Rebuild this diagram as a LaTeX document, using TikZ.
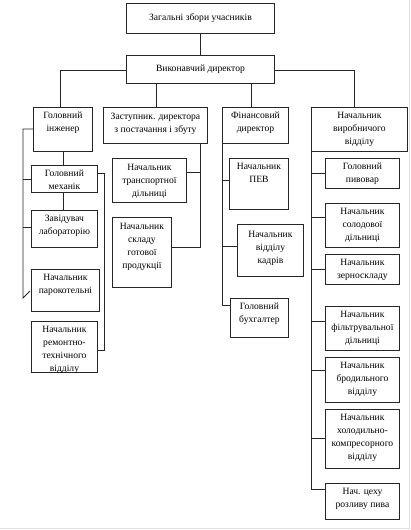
\documentclass[tikz,border=0pt]{standalone}
\usepackage{fontspec}
\setmainfont{Liberation Serif}
\tikzset{
  box/.style={draw=black!85, line width=0.9pt, inner sep=0pt, fill=white},
  ln/.style={draw=black!85, line width=0.9pt},
  frame/.style={draw=black!12, line width=1pt}
}
\newcommand\bx[6]{\node[box,anchor=north west] (#1) at (#2,#3)
  {\parbox[t][\dimexpr #5pt-#3pt\relax][t]{\dimexpr #4pt-#2pt\relax}{\centering\fontsize{9.6}{13}\selectfont\vspace*{4.5pt}#6\par}};}
\begin{document}
\begin{tikzpicture}[x=1pt,y=-1pt]
\useasboundingbox (0,0) rectangle (411,530);
\fill[white] (0,0) rectangle (411,530);
\draw[frame] (409.5,0) -- (409.5,528) -- (0,528);
% top boxes
\node[box,anchor=north west,minimum width=148pt,minimum height=30pt,font=\fontsize{9.6}{12}\selectfont] (gen) at (126,3) {\raisebox{1.5pt}{Загальні збори учасників}};
\node[box,anchor=north west,minimum width=148pt,minimum height=28pt,font=\fontsize{9.6}{12}\selectfont] (exec) at (126,55) {\raisebox{1pt}{Виконавчий директор}};
% level 2
\bx{eng}{33}{107}{92}{151}{Головний\\інженер}
\bx{dep}{103}{107}{207}{143}{\vspace*{1.5pt}Заступник. директора\\з постачання і збуту}
\bx{fin}{222}{107}{288}{143}{Фінансовий\\директор}
\bx{prod}{311}{107}{407}{151}{Начальник\\виробничого\\відділу}
% engineer branch
\bx{mech}{31}{165}{97}{192}{Головний\\механік}
\bx{lab}{31}{210}{97}{247}{Завідувач\\лабораторію}
\bx{boil}{31}{269}{99}{311}{Начальник\\парокотельні}
\bx{rep}{31}{321}{97}{372}{Начальник\\ремонтно-\\технічного\\відділу}
% deputy branch
\bx{trans}{112}{158}{186}{202}{\vspace*{1pt}Начальник\\транспортної\\дільниці}
\bx{stor}{112}{217}{171}{287}{\vspace*{1pt}Начальник\\складу\\готової\\продукції}
% finance branch
\bx{pev}{229}{158}{288}{209}{Начальник\\ПЕВ}
\bx{hr}{237}{224}{303}{276}{\vspace*{2pt}Начальник\\відділу\\кадрів}
\bx{acc}{230}{298}{288}{337}{Головний\\бухгалтер}
% production branch
\bx{brew}{325}{158}{399}{188}{Головний\\пивовар}
\bx{malt}{325}{203}{399}{247}{Начальник\\солодової\\дільниці}
\bx{grain}{325}{254}{399}{284}{Начальник\\зерноскладу}
\bx{filt}{325}{306}{399}{350}{Начальник\\фільтрувальної\\дільниці}
\bx{ferm}{325}{357}{399}{402}{Начальник\\бродильного\\відділу}
\bx{cold}{325}{409}{399}{468}{Начальник\\холодильно-\\компресорного\\відділу}
\bx{bott}{325}{483}{399}{519}{Нач. цеху\\розливу пива}
% connectors top
\draw[ln] (gen.south) -- (exec.north);
\draw[ln] (exec.west |- 0,70) -| (eng.north -| 60,0);
\draw[ln] (exec.east |- 0,70) -| (prod.north -| 354,0);
\draw[ln] (exec.south -| 156,0) -- (dep.north -| 156,0);
\draw[ln] (exec.south -| 251,0) -- (fin.north -| 251,0);
% engineer connectors
\draw[ln] (eng.west |- 0,129) -- (23,129) -- (23,298) -- (30,291);
\draw[ln] (23,179) -- (mech.west |- 0,179);
\draw[ln] (23,227) -- (lab.west |- 0,227);
\draw[ln] (eng.south -| 63,0) -- (mech.north -| 63,0);
\draw[ln] (mech.south -| 63,0) -- (lab.north -| 63,0);
\draw[ln] (mech.east |- 0,173) -- (104,173) -- (104,350) -- (rep.east |- 0,350);
% deputy connectors
\draw[ln] (dep.south -| 200,0) -- (200,247) -- (stor.east |- 0,247);
\draw[ln] (200,172) -- (trans.east |- 0,172);
% finance connectors
\draw[ln] (fin.south west) -- (222,305) -- (acc.west |- 0,305);
\draw[ln] (222,180) -- (pev.west |- 0,180);
\draw[ln] (222,246) -- (hr.west |- 0,246);
% production connectors
\draw[ln] (prod.south west) -- (311,489) -- (bott.west |- 0,489);
\draw[ln] (311,173) -- (brew.west |- 0,173);
\draw[ln] (311,217) -- (malt.west |- 0,217);
\draw[ln] (311,269) -- (grain.west |- 0,269);
\draw[ln] (311,321) -- (filt.west |- 0,321);
\draw[ln] (311,370) -- (ferm.west |- 0,370);
\draw[ln] (311,438) -- (cold.west |- 0,438);
\end{tikzpicture}
\end{document}
